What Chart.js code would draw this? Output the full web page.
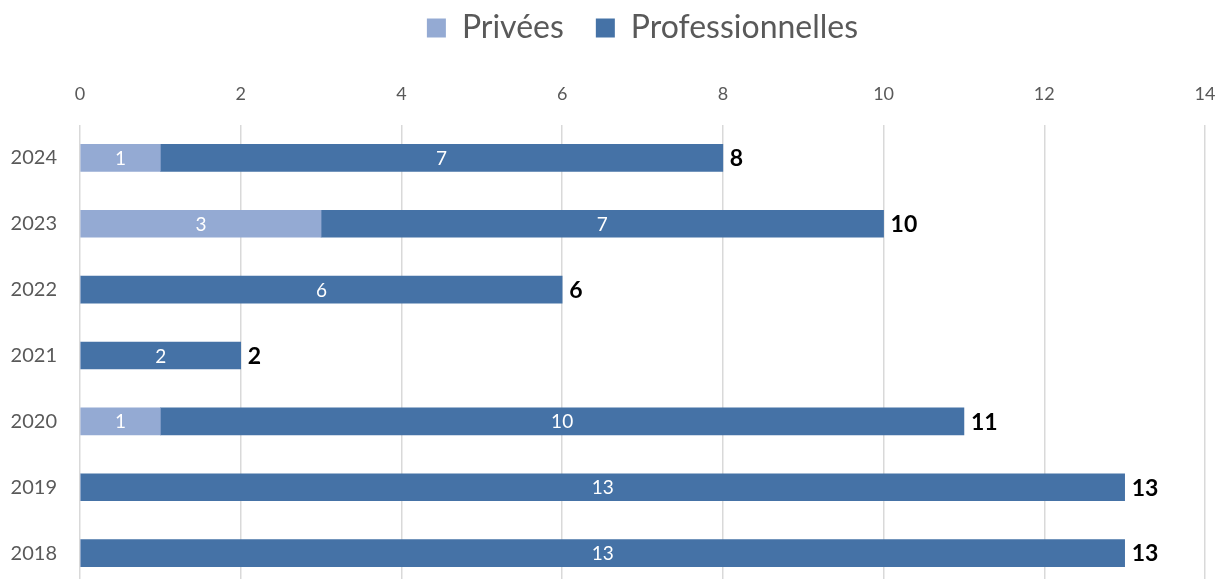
<!DOCTYPE html>
<html lang="fr">
<head>
  <meta charset="UTF-8" />
  <title>Privées / Professionnelles</title>
  <script src="https://cdn.jsdelivr.net/npm/chart.js"></script>
  <style>
    html, body { margin: 0; padding: 0; background: #fff; overflow: hidden; }
    canvas { display: block; }
  </style>
</head>
<body>
<canvas id="chart" width="1219" height="586"></canvas>
<script>
  const annees = ['2024', '2023', '2022', '2021', '2020', '2019', '2018'];
  const privees = [1, 3, 0, 0, 1, 0, 0];
  const professionnelles = [7, 7, 6, 2, 10, 13, 13];
  const ticksX = [0, 2, 4, 6, 8, 10, 12, 14];

  const FONT = 'Lato, "Open Sans", sans-serif';

  // valeurs dans les barres + total au bout
  const etiquettes = {
    id: 'etiquettes',
    afterDatasetsDraw(chart) {
      const ctx = chart.ctx;
      ctx.save();
      ctx.textBaseline = 'middle';
      chart.data.datasets.forEach((ds, i) => {
        const meta = chart.getDatasetMeta(i);
        meta.data.forEach((bar, j) => {
          const v = ds.data[j];
          if (!v) return;
          ctx.fillStyle = '#ffffff';
          ctx.font = '19px ' + FONT;
          ctx.textAlign = 'center';
          ctx.fillText(v, (bar.x + bar.base) / 2, bar.y + 1);
        });
      });
      const last = chart.getDatasetMeta(chart.data.datasets.length - 1);
      last.data.forEach((bar, j) => {
        const total = privees[j] + professionnelles[j];
        ctx.fillStyle = '#000000';
        ctx.font = 'bold 23px ' + FONT;
        ctx.textAlign = 'left';
        ctx.fillText(total, bar.x + 7, bar.y + 1);
      });
      ctx.restore();
    }
  };

  new Chart(document.getElementById('chart'), {
    type: 'bar',
    data: {
      labels: annees,
      datasets: [
        { label: 'Privées', data: privees, backgroundColor: '#94aad3', barThickness: 27 },
        { label: 'Professionnelles', data: professionnelles, backgroundColor: '#4572a6', barThickness: 27 }
      ]
    },
    options: {
      indexAxis: 'y',
      responsive: false,
      animation: false,
      layout: { padding: { left: 0, right: 14, top: -20, bottom: 0 } },
      plugins: {
        legend: {
          position: 'top',
          fullSize: false,
          labels: {
            font: { family: FONT, size: 32 },
            color: '#595959',
            boxWidth: 19,
            boxHeight: 19,
            padding: 32
          }
        },
        tooltip: { enabled: false }
      },
      scales: {
        x: {
          position: 'top',
          stacked: true,
          min: 0,
          max: 14,
          afterBuildTicks(scale) { scale.ticks = ticksX.map(v => ({ value: v })); },
          afterFit(scale) {
            scale.height = 71;
            scale.paddingLeft = 0;
            scale.paddingRight = 0;
          },
          grid: { color: '#d9d9d9', drawTicks: false, lineWidth: 1.5 },
          border: { display: false },
          ticks: { font: { family: FONT, size: 18 }, color: '#595959', padding: 20 }
        },
        y: {
          stacked: true,
          afterFit(scale) {
            scale.width = 80;
            scale.paddingTop = 0;
            scale.paddingBottom = 0;
          },
          grid: { display: false },
          border: { display: false },
          ticks: { font: { family: FONT, size: 20 }, color: '#595959', padding: 15 }
        }
      }
    },
    plugins: [etiquettes]
  });
</script>
</body>
</html>
